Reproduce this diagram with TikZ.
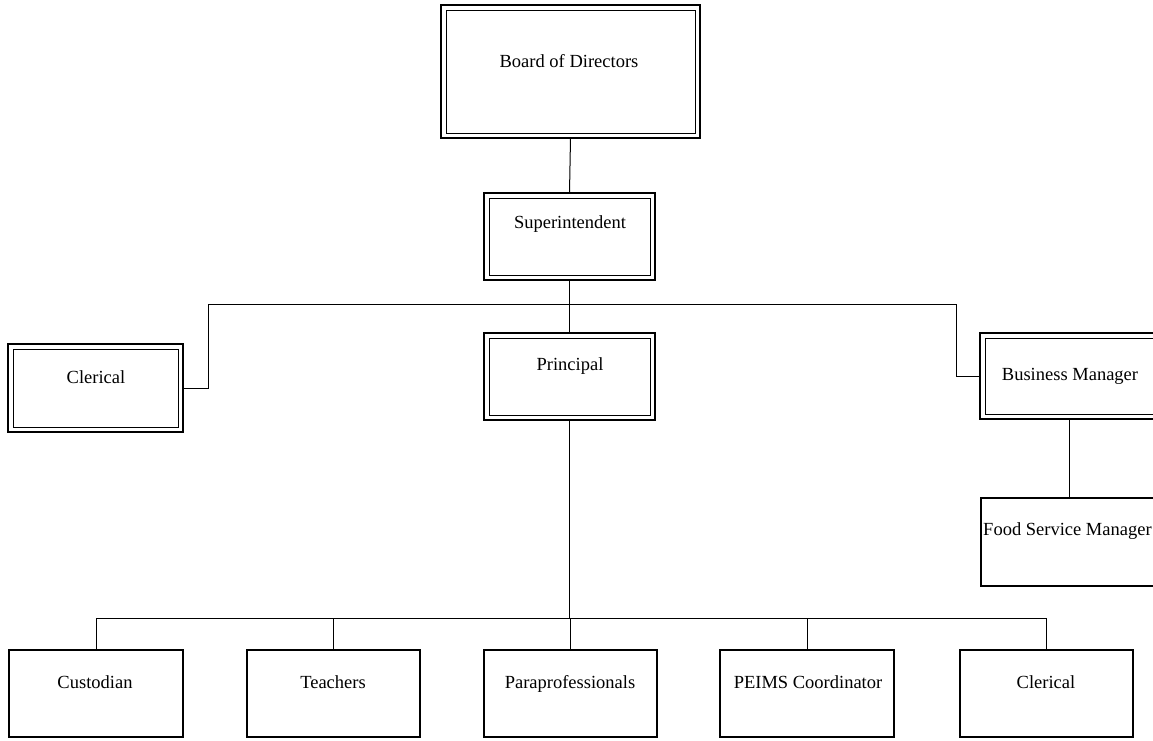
\documentclass[tikz,border=0pt]{standalone}
\usepackage{fontspec}
\setmainfont{Liberation Serif}
\begin{document}
\begin{tikzpicture}[x=1pt,y=-1pt,
  box/.style={draw, line width=2pt, rectangle, inner sep=0pt, outer sep=0pt},
  dbox/.style={box, line width=2.4pt,
    path picture={\draw[line width=0.9pt] ([shift={(5pt,5pt)}]path picture bounding box.south west) rectangle ([shift={(-5pt,-5pt)}]path picture bounding box.north east);}},
  fbox/.style={draw, line width=1.4pt, rectangle, inner sep=0pt, outer sep=0pt},
  lab/.style={font=\fontsize{18.5}{22}\selectfont, anchor=base, inner sep=0pt},
  conn/.style={line width=1pt}]
\useasboundingbox (0,0) rectangle (1153,740);
\clip (0,0) rectangle (1153,740);
\fill[white] (0,0) rectangle (1153,740);
% boxes
\node[dbox, minimum width=259pt, minimum height=133pt] (board) at (570.5,71.5) {};
\node[dbox, minimum width=171pt, minimum height=87pt] (sup) at (569.5,236.5) {};
\node[dbox, minimum width=171pt, minimum height=87pt] (prin) at (569.5,376.5) {};
\node[dbox, minimum width=175pt, minimum height=88pt] (clL) at (95.5,388) {};
\node[dbox, minimum width=178pt, minimum height=86pt] (bus) at (1069,376) {};
\node[fbox, minimum width=179pt, minimum height=88pt] (food) at (1070.5,542) {};
\node[box, minimum width=174pt, minimum height=87pt] (cust) at (96,693.5) {};
\node[box, minimum width=173pt, minimum height=87pt] (teach) at (333.5,693.5) {};
\node[box, minimum width=173pt, minimum height=87pt] (para) at (570.5,693.5) {};
\node[box, minimum width=174pt, minimum height=87pt] (peims) at (807,693.5) {};
\node[box, minimum width=173pt, minimum height=87pt] (clB) at (1046.5,693.5) {};
% labels
\node[lab] (boardT) at (569,67) {Board of Directors};
\node[lab] (supT) at (570,228) {Superintendent};
\node[lab] (prinT) at (570,370) {Principal};
\node[lab] (clLT) at (96,383) {Clerical};
\node[lab] (busT) at (1070,380) {Business Manager};
\node[lab, anchor=base west] (foodT) at (983,535) {Food Service Manager};
\node[lab] (custT) at (95,688) {Custodian};
\node[lab] (teachT) at (333,688) {Teachers};
\node[lab] (paraT) at (570,688) {Paraprofessionals};
\node[lab] (peimsT) at (808,688) {PEIMS Coordinator};
\node[lab] (clBT) at (1046,688) {Clerical};
% connectors
\coordinate (hL) at (208,304);
\coordinate (hR) at (956,304);
\coordinate (bar) at (570,618);
\draw[conn] (board.south) -- (sup.north);
\draw[conn] (sup.south) -- (prin.north);
\draw[conn] (clL.east) -| (hL) -- (hR) |- (bus.west);
\draw[conn] (bus.south) -- (bus.south |- food.north);
\draw[conn] (prin.south) -- (prin.south |- bar);
\draw[conn] (cust.north) |- (bar) -| (clB.north);
\draw[conn] (teach.north) -- (teach.north |- bar);
\draw[conn] (para.north) -- (para.north |- bar);
\draw[conn] (peims.north) -- (peims.north |- bar);
\end{tikzpicture}
\end{document}
